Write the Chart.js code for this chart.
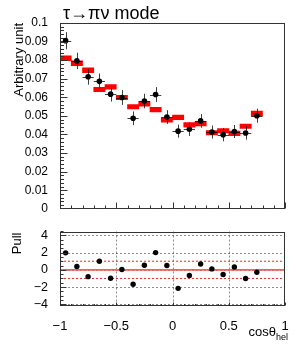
<!DOCTYPE html>
<html>
<head>
<meta charset="utf-8">
<script src="https://cdn.jsdelivr.net/npm/chart.js@4"></script>
<style>
  html, body { margin: 0; padding: 0; background: #fff; }
  #wrap { position: relative; width: 300px; height: 346px; }
  #top { position: absolute; left: 0; top: 0; }
  #pull { position: absolute; left: 0; top: 220px; }
</style>
</head>
<body>
<div id="wrap">
  <canvas id="top" width="300" height="220"></canvas>
  <canvas id="pull" width="300" height="126"></canvas>
</div>
<script>
// tau -> pi nu helicity fit: data vs MC (top) and pull (bottom)

const X_CENTERS = [-0.95, -0.85, -0.75, -0.65, -0.55, -0.45, -0.35, -0.25, -0.15, -0.05,
                   0.05, 0.15, 0.25, 0.35, 0.45, 0.55, 0.65, 0.75];
const BIN_HALF = 0.05;

const DATA_VALUES = [0.0905, 0.0796, 0.0711, 0.0686, 0.0617, 0.0599, 0.0487, 0.0580, 0.0615, 0.0494,
                     0.0418, 0.0428, 0.0473, 0.0413, 0.0399, 0.0416, 0.0408, 0.0501];
const DATA_ERRORS = [0.0046, 0.0044, 0.0043, 0.0042, 0.0040, 0.0040, 0.0037, 0.0039, 0.0040, 0.0037,
                     0.0035, 0.0036, 0.0037, 0.0035, 0.0036, 0.0035, 0.0036, 0.0038];
const MC_VALUES = [0.0810, 0.0784, 0.0746, 0.0642, 0.0656, 0.0599, 0.0549, 0.0565, 0.0534, 0.0478,
                   0.0492, 0.0452, 0.0458, 0.0409, 0.0420, 0.0406, 0.0444, 0.0513];
const MC_ERRORS = [0.0013, 0.0013, 0.0013, 0.0012, 0.0012, 0.0012, 0.0012, 0.0012, 0.0012, 0.0012,
                   0.0012, 0.0012, 0.0012, 0.0012, 0.0012, 0.0012, 0.0012, 0.0013];

const PULL_VALUES = [1.97, 0.39, -0.79, 1.00, -0.97, 0.04, -1.68, 0.54, 2.00, 0.50,
                     -2.15, -0.65, 0.68, 0.11, -0.54, 0.32, -1.00, -0.29];

const TOP_Y_TICKS = [0, 0.01, 0.02, 0.03, 0.04, 0.05, 0.06, 0.07, 0.08, 0.09, 0.1];
const PULL_TICKS = [-4, -2, 0, 2, 4];
const X_TICKS = [-1, -0.5, 0, 0.5, 1];
const X_GRID = [-0.5, 0, 0.5];

const FONT = '"Liberation Sans", Arial, Helvetica, sans-serif';
Chart.defaults.font.family = FONT;
Chart.defaults.color = '#000';

// ROOT-like frame with inward ticks
function frameTicks(opt) {
  return {
    id: 'frameTicks',
    beforeDatasetsDraw(chart) {
      if (!opt.grid) return;
      const { ctx, chartArea: a, scales: { x, y } } = chart;
      ctx.save();
      ctx.strokeStyle = 'rgba(0,0,0,0.45)';
      ctx.lineWidth = 1;
      ctx.setLineDash([2, 2]);
      for (const v of X_GRID) {
        const px = Math.round(x.getPixelForValue(v)) + 0.5;
        ctx.beginPath(); ctx.moveTo(px, a.top); ctx.lineTo(px, a.bottom); ctx.stroke();
      }
      for (const v of PULL_TICKS) {
        const py = Math.round(y.getPixelForValue(v)) + 0.5;
        ctx.beginPath(); ctx.moveTo(a.left, py); ctx.lineTo(a.right, py); ctx.stroke();
      }
      ctx.restore();
    },
    afterDatasetsDraw(chart) {
      if (!opt.errors) return;
      const { ctx, scales: { x, y } } = chart;
      ctx.save();
      ctx.strokeStyle = 'rgba(0,0,0,0.75)';
      ctx.lineWidth = 1;
      X_CENTERS.forEach((xc, i) => {
        const px = Math.round(x.getPixelForValue(xc)) + 0.5;
        const py = Math.round(y.getPixelForValue(DATA_VALUES[i])) + 0.5;
        ctx.beginPath();
        ctx.moveTo(x.getPixelForValue(xc - BIN_HALF), py);
        ctx.lineTo(x.getPixelForValue(xc + BIN_HALF), py);
        ctx.moveTo(px, y.getPixelForValue(DATA_VALUES[i] + DATA_ERRORS[i]));
        ctx.lineTo(px, y.getPixelForValue(DATA_VALUES[i] - DATA_ERRORS[i]));
        ctx.stroke();
      });
      ctx.restore();
    },
    afterDraw(chart) {
      const { ctx, chartArea: a, scales: { x, y } } = chart;
      ctx.save();
      ctx.strokeStyle = '#333';
      ctx.lineWidth = 1;
      ctx.setLineDash([]);
      const L = Math.round(a.left) + 0.5, R = Math.round(a.right) - 0.5;
      const T = Math.round(a.top) + 0.5, B = Math.round(a.bottom) - 0.5;
      ctx.strokeRect(L, T, R - L, B - T);

      ctx.beginPath();
      // x ticks every 0.1, major every 0.5
      for (let i = 0; i <= 20; i++) {
        const px = Math.round(x.getPixelForValue(-1 + i * 0.1)) + 0.5;
        const len = i % 5 === 0 ? opt.xMajor : opt.xMinor;
        ctx.moveTo(px, B); ctx.lineTo(px, B - len);
      }
      // y ticks
      for (let i = 0; i <= opt.yCount; i++) {
        const py = Math.round(y.getPixelForValue(opt.yStart + i * opt.yStep)) + 0.5;
        if (py < a.top || py > a.bottom) continue;
        const len = i % opt.yEvery === 0 ? opt.yMajor : opt.yMinor;
        ctx.moveTo(L, py); ctx.lineTo(L + len, py);
      }
      ctx.stroke();
      ctx.restore();

      if (opt.labels) opt.labels(ctx, a);
    }
  };
}

const topChart = new Chart(document.getElementById('top'), {
  type: 'bar',
  data: {
    datasets: [
      {
        type: 'scatter',
        label: 'Data',
        data: X_CENTERS.map((x, i) => ({ x, y: DATA_VALUES[i] })),
        pointRadius: 2.8,
        pointBackgroundColor: '#000',
        pointBorderWidth: 0,
        order: 0
      },
      {
        type: 'bar',
        label: 'MC',
        data: X_CENTERS.map((x, i) => ({ x, y: [MC_VALUES[i] - MC_ERRORS[i], MC_VALUES[i] + MC_ERRORS[i]] })),
        backgroundColor: '#ff0000',
        borderWidth: 0,
        barPercentage: 1,
        categoryPercentage: 1,
        order: 1
      }
    ]
  },
  options: {
    responsive: false,
    animation: false,
    layout: { padding: { top: 23, right: 15, left: 0, bottom: 0 } },
    plugins: { legend: { display: false }, tooltip: { enabled: false } },
    scales: {
      x: {
        type: 'linear', min: -1, max: 1, offset: false,
        grid: { display: false }, border: { display: false },
        ticks: { display: false },
        afterFit(s) { s.height = 4; }
      },
      y: {
        min: 0, max: 0.1,
        grid: { display: false }, border: { display: false },
        afterBuildTicks(s) { s.ticks = TOP_Y_TICKS.map(v => ({ value: v })); },
        ticks: { padding: 4, font: { size: 12 }, autoSkip: false, callback: v => String(+v.toFixed(2)) },
        afterFit(s) { s.width = 60; }
      }
    }
  },
  plugins: [frameTicks({
    errors: true,
    xMajor: 6, xMinor: 3,
    yStart: 0, yStep: 0.002, yCount: 50, yEvery: 5, yMajor: 7, yMinor: 3.5,
    labels(ctx, a) {
      ctx.save();
      ctx.fillStyle = '#000';
      ctx.font = '18px ' + FONT;
      ctx.textAlign = 'left';
      ctx.textBaseline = 'alphabetic';
      ctx.fillText('τ→πν mode', 63, 18.5);
      ctx.translate(22.5, a.top);
      ctx.rotate(-Math.PI / 2);
      ctx.font = '13px ' + FONT;
      ctx.textAlign = 'right';
      ctx.fillText('Arbitrary unit', 0, 0);
      ctx.restore();
    }
  })]
});

const pullChart = new Chart(document.getElementById('pull'), {
  type: 'scatter',
  data: {
    datasets: [
      {
        label: 'Pull',
        data: X_CENTERS.map((x, i) => ({ x, y: PULL_VALUES[i] })),
        pointRadius: 2.7,
        pointBackgroundColor: '#000',
        pointBorderWidth: 0,
        order: 0
      },
      {
        type: 'line', label: 'zero',
        data: [{ x: -1, y: 0 }, { x: 1, y: 0 }],
        borderColor: '#ff5c5c', borderWidth: 1.6, pointRadius: 0, order: 1
      },
      {
        type: 'line', label: '+1',
        data: [{ x: -1, y: 1 }, { x: 1, y: 1 }],
        borderColor: '#ff2020', borderWidth: 1, borderDash: [2, 2], pointRadius: 0, order: 1
      },
      {
        type: 'line', label: '-1',
        data: [{ x: -1, y: -1 }, { x: 1, y: -1 }],
        borderColor: '#ff2020', borderWidth: 1, borderDash: [2, 2], pointRadius: 0, order: 1
      }
    ]
  },
  options: {
    responsive: false,
    animation: false,
    layout: { padding: { top: 6, right: 15, left: 0, bottom: 0 } },
    plugins: { legend: { display: false }, tooltip: { enabled: false } },
    scales: {
      x: {
        type: 'linear', min: -1, max: 1,
        grid: { display: false }, border: { display: false },
        afterBuildTicks(s) { s.ticks = X_TICKS.map(v => ({ value: v })); },
        ticks: { padding: 5, font: { size: 13 }, maxRotation: 0, autoSkip: false,
                 callback: v => String(v).replace('-', '−') },
        afterFit(s) { s.height = 40; }
      },
      y: {
        min: -4.2, max: 4.45,
        grid: { display: false }, border: { display: false },
        afterBuildTicks(s) { s.ticks = PULL_TICKS.map(v => ({ value: v })); },
        ticks: { padding: 4, font: { size: 12.5 }, autoSkip: false,
                 callback: v => String(v).replace('-', '−') },
        afterFit(s) { s.width = 60; }
      }
    }
  },
  plugins: [frameTicks({
    grid: true,
    xMajor: 3, xMinor: 1.5,
    yStart: -4, yStep: 0.5, yCount: 17, yEvery: 4, yMajor: 6, yMinor: 3,
    labels(ctx, a) {
      ctx.save();
      ctx.fillStyle = '#000';
      ctx.font = '13px ' + FONT;
      ctx.textAlign = 'right';
      ctx.fillText('cosθ', 276, 116);
      ctx.font = '9px ' + FONT;
      ctx.textAlign = 'left';
      ctx.fillText('hel', 276, 120);
      ctx.translate(20.5, a.top + 1);
      ctx.rotate(-Math.PI / 2);
      ctx.font = '13px ' + FONT;
      ctx.textAlign = 'right';
      ctx.fillText('Pull', 0, 0);
      ctx.restore();
    }
  })]
});
</script>
</body>
</html>
